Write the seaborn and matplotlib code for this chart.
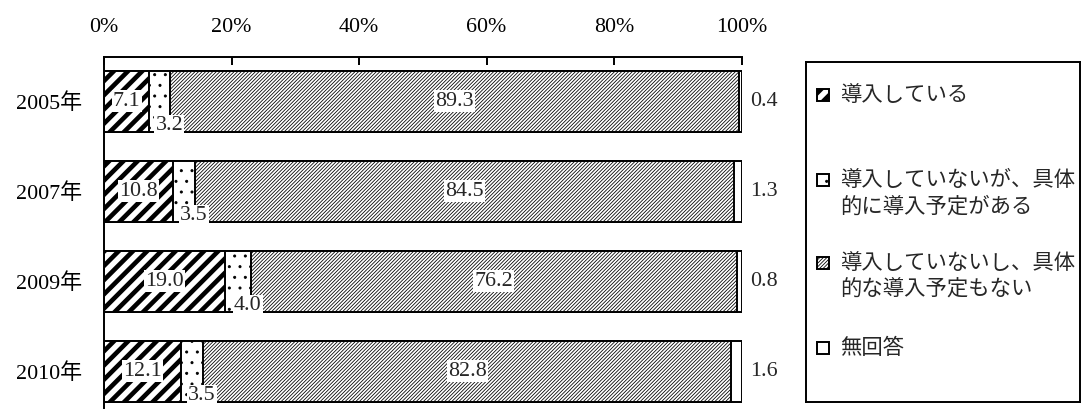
import matplotlib
matplotlib.use("Agg")
import matplotlib.pyplot as plt
from matplotlib.patches import Rectangle
import seaborn as sns
import pandas as pd

# ---- data ---------------------------------------------------------------
years = ["2005年", "2007年", "2009年", "2010年"]
implemented = [7.1, 10.8, 19.0, 12.1]          # 導入している
planned = [3.2, 3.5, 4.0, 3.5]                 # 導入していないが、具体的に導入予定がある
not_planned = [89.3, 84.5, 76.2, 82.8]         # 導入していないし、具体的な導入予定もない
no_answer = [0.4, 1.3, 0.8, 1.6]               # 無回答
tick_values = [0, 20, 40, 60, 80, 100]
tick_labels = ["0%", "20%", "40%", "60%", "80%", "100%"]
legend_lines = [
    ["導入している"],
    ["導入していないが、具体", "的に導入予定がある"],
    ["導入していないし、具体", "的な導入予定もない"],
    ["無回答"],
]

# ---- figure -------------------------------------------------------------
W, H, DPI = 1082, 410, 128
sns.set_style("white")
plt.rcParams["font.family"] = ["Liberation Serif", "Noto Sans CJK JP"]
FS = 12.4

fig = plt.figure(figsize=(W / DPI, H / DPI), dpi=DPI)
fig.patch.set_facecolor("white")
ax = fig.add_axes([104 / W, 1 - 408 / H, (741.7 - 104) / W, (408 - 57) / H])

df = pd.DataFrame({"year": years, "implemented": implemented, "planned": planned,
                   "not_planned": not_planned, "no_answer": no_answer})
df["c1"] = df["implemented"]
df["c2"] = df["c1"] + df["planned"]
df["c3"] = df["c2"] + df["not_planned"]
df["c4"] = df["c3"] + df["no_answer"]

# stacked bars: draw cumulative totals from the outermost segment inwards
styles = [("c4", "", 0.5),
          ("c3", "/" * 12, 0.45),
          ("c2", "..", 0.5),
          ("c1", "///", 2.6)]
hatch_of = {}
for col, hatch, hlw in styles:
    plt.rcParams["hatch.linewidth"] = hlw
    n0 = len(ax.patches)
    sns.barplot(data=df, x=col, y="year", orient="h", color="white", saturation=1,
                edgecolor="black", linewidth=1.1, hatch=hatch if hatch else None,
                width=0.68, errorbar=None, ax=ax)
    for p in ax.patches[n0:]:
        if hasattr(p, "set_hatch_linewidth"):
            p.set_hatch_linewidth(hlw)
    hatch_of[col] = (hatch, hlw)

ax.set_xlim(0, 100)
ax.set_ylim(3.41, -0.49)
ax.set_xlabel("")
ax.set_ylabel("")

ax.xaxis.set_ticks_position("top")
ax.set_xticks(tick_values)
ax.set_xticklabels(tick_labels)
ax.tick_params(axis="x", direction="in", length=4.5, width=1.1, pad=11,
               labelsize=FS, top=True, bottom=False, colors="black")
ax.tick_params(axis="y", length=0, pad=12.4, labelsize=FS, colors="black")
for s in ["right", "bottom"]:
    ax.spines[s].set_visible(False)
for s in ["top", "left"]:
    ax.spines[s].set_color("black")
    ax.spines[s].set_linewidth(1.1)

# ---- value labels -------------------------------------------------------
box = dict(facecolor="white", edgecolor="none", pad=0.6)
for i in range(len(years)):
    c1 = df["c1"][i]
    c2 = df["c2"][i]
    ax.text(c1 / 2, i, f"{implemented[i]:.1f}", ha="center", va="center",
            fontsize=FS, bbox=box)
    ax.annotate(f"{planned[i]:.1f}", xy=(c1 + planned[i] / 2, i + 0.27),
                xytext=(5.5, 0), textcoords="offset points", ha="center",
                va="center", fontsize=FS, bbox=box, annotation_clip=False)
    ax.text(c2 + not_planned[i] / 2, i, f"{not_planned[i]:.1f}", ha="center",
            va="center", fontsize=FS, bbox=box)
    ax.annotate(f"{no_answer[i]:.1f}", xy=(100, i), xytext=(4.5, 0),
                textcoords="offset points", ha="left", va="center",
                fontsize=FS, annotation_clip=False)

# ---- legend panel (pixel coordinates inside its own frame) ---------------
lx0, ly0, lx1, ly1 = 806, 62, 1080, 402
lax = fig.add_axes([lx0 / W, 1 - ly1 / H, (lx1 - lx0) / W, (ly1 - ly0) / H])
lax.set_xlim(0, lx1 - lx0)
lax.set_ylim(ly1 - ly0, 0)
lax.set_xticks([])
lax.set_yticks([])
for s in lax.spines.values():
    s.set_color("black")
    s.set_linewidth(1.1)

entry_cols = ["c1", "c2", "c3", "c4"]
entry_y = [33, 118, 201, 286]
line_gap = 27
for col, y0, lines in zip(entry_cols, entry_y, legend_lines):
    hatch, hlw = hatch_of[col]
    plt.rcParams["hatch.linewidth"] = hlw
    sq = Rectangle((11, y0 - 6), 12, 12, facecolor="white", edgecolor="black",
                   linewidth=1.1, hatch=hatch if hatch else None)
    if hasattr(sq, "set_hatch_linewidth"):
        sq.set_hatch_linewidth(hlw)
    lax.add_patch(sq)
    for k, line in enumerate(lines):
        lax.text(34, y0 + k * line_gap, line, ha="left", va="center",
                 fontsize=12.0, family=["Noto Sans CJK JP", "DejaVu Sans"])

fig.savefig("out.png", dpi=DPI, facecolor="white")
